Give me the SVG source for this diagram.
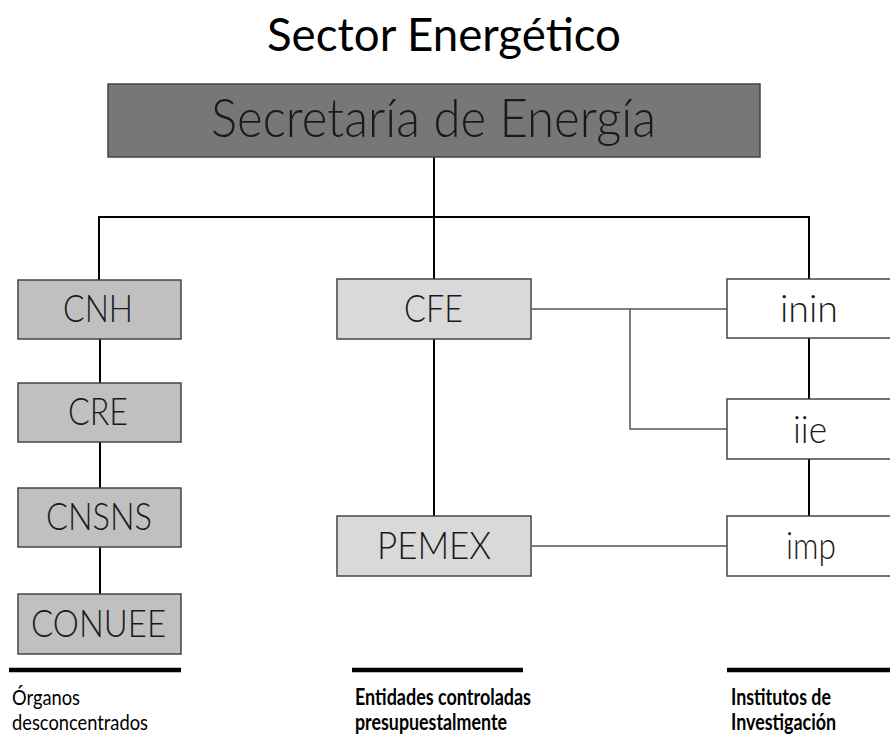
<svg xmlns="http://www.w3.org/2000/svg" width="890" height="736" viewBox="0 0 890 736">
<style>
text{font-family:Lato,"Liberation Sans",sans-serif;}
.title{font-size:46px;fill:#000;}
.node rect{stroke:#444;stroke-width:1.5;}
.dark{fill:#777;}
.mid{fill:#c0c0c0;}
.light{fill:#d9d9d9;}
.white{fill:#fff;}
.nt{font-size:38px;fill:#1a1a1a;font-weight:300;text-anchor:start;}
.main{font-size:53px;fill:#1a1a1a;font-weight:300;}
.c{stroke:#000;stroke-width:2;fill:none;}
.g{stroke:#555;stroke-width:1.5;fill:none;}
.bar{stroke:#000;stroke-width:4.5;}
.lab{font-size:22px;fill:#000;}
.labb{font-size:22px;fill:#000;font-weight:bold;}
</style>
<text class="title" x="267" y="51" textLength="354" lengthAdjust="spacingAndGlyphs">Sector Energético</text>
<g id="connectors">
<path class="c" d="M434 157V217M99 280V217H809V280M434 217V280"/>
<path class="c" d="M100 339V383M100 442V488M100 547V594"/>
<path class="c" d="M434 339V516"/>
<path class="c" d="M809 338V399M809 459V516"/>
<path class="g" d="M532 309H727M630 309V429H727M532 546H727"/>
</g>
<g id="secretaria" class="node"><rect class="dark" x="108" y="84" width="652" height="73"/><text class="main" x="211" y="137" textLength="445" lengthAdjust="spacingAndGlyphs">Secretaría de Energía</text></g>
<g id="cnh" class="node"><rect class="mid" x="18" y="280" width="163" height="59"/><text class="nt" x="63" y="322" textLength="70" lengthAdjust="spacingAndGlyphs">CNH</text></g>
<g id="cre" class="node"><rect class="mid" x="18" y="383" width="163" height="59"/><text class="nt" x="68" y="425" textLength="60" lengthAdjust="spacingAndGlyphs">CRE</text></g>
<g id="cnsns" class="node"><rect class="mid" x="18" y="488" width="163" height="59"/><text class="nt" x="46" y="530" textLength="106" lengthAdjust="spacingAndGlyphs">CNSNS</text></g>
<g id="conuee" class="node"><rect class="mid" x="18" y="594" width="163" height="60"/><text class="nt" x="31" y="637" textLength="135" lengthAdjust="spacingAndGlyphs">CONUEE</text></g>
<g id="cfe" class="node"><rect class="light" x="337" y="279" width="194" height="60"/><text class="nt" x="404" y="322" textLength="59" lengthAdjust="spacingAndGlyphs">CFE</text></g>
<g id="pemex" class="node"><rect class="light" x="337" y="516" width="194" height="60"/><text class="nt" x="377" y="559" textLength="114" lengthAdjust="spacingAndGlyphs">PEMEX</text></g>
<g id="inin" class="node"><rect class="white" x="727" y="279" width="180" height="59"/><text class="nt" x="780" y="322" textLength="58" lengthAdjust="spacingAndGlyphs">inin</text></g>
<g id="iie" class="node"><rect class="white" x="727" y="399" width="180" height="60"/><text class="nt" x="793" y="443" textLength="34" lengthAdjust="spacingAndGlyphs">iie</text></g>
<g id="imp" class="node"><rect class="white" x="727" y="516" width="180" height="60"/><text class="nt" x="786" y="559" textLength="50" lengthAdjust="spacingAndGlyphs">imp</text></g>
<g id="legend">
<line class="bar" x1="9" y1="670" x2="181" y2="670"/>
<line class="bar" x1="352" y1="670" x2="523" y2="670"/>
<line class="bar" x1="727" y1="670" x2="890" y2="670"/>
<text class="lab" x="12" y="705" textLength="68" lengthAdjust="spacingAndGlyphs">Órganos</text>
<text class="lab" x="12" y="730" textLength="136" lengthAdjust="spacingAndGlyphs">desconcentrados</text>
<text class="labb" x="355" y="705" textLength="176" lengthAdjust="spacingAndGlyphs">Entidades controladas</text>
<text class="labb" x="355" y="730" textLength="152" lengthAdjust="spacingAndGlyphs">presupuestalmente</text>
<text class="labb" x="731" y="705" textLength="100" lengthAdjust="spacingAndGlyphs">Institutos de</text>
<text class="labb" x="731" y="730" textLength="105" lengthAdjust="spacingAndGlyphs">Investigación</text>
</g>
</svg>
